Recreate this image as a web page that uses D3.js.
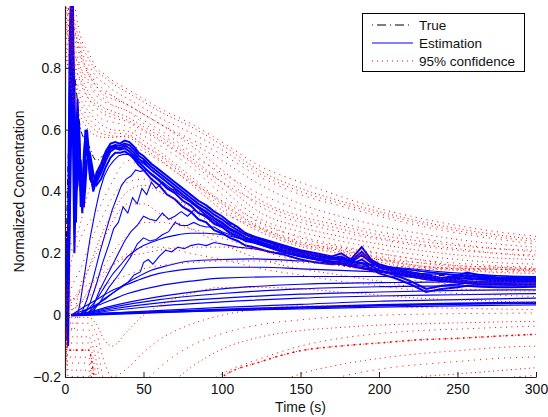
<!DOCTYPE html>
<html><head><meta charset="utf-8">
<script src="https://cdn.jsdelivr.net/npm/d3@7"></script>
<style>
body{margin:0;background:#fff;}
text{font-family:"Liberation Sans",Arial,Helvetica,sans-serif;}
</style></head><body>
<svg id="chart" width="548" height="417"></svg>
<script>
// ---------- tick labels ----------
const xTicks = [0, 50, 100, 150, 200, 250, 300];
const yTicks = [-0.2, 0, 0.2, 0.4, 0.6, 0.8];
const legendLabels = ["True", "Estimation", "95% confidence"];

// ---------- fine time grid for the main bundle ----------
const tB = [0,1,2,3,4,5,6,7,8,9,10,11,12,13,14,16,18,20,23,26,29,32,35,38,41,44,47,50,55,60,65,70,75,80,85,90,95,100,105,110,115,120,130,140,150,160,170,176,182,189,195,200,210,220,230,240,250,256,265,275,285,300];
const estB1 = [0,0.25,0.1,0.7,1.1,0.95,0.35,0.55,0.70,0.52,0.40,0.37,0.47,0.60,0.57,0.45,0.41,0.46,0.49,0.53,0.555,0.56,0.555,0.565,0.56,0.545,0.525,0.515,0.49,0.47,0.45,0.43,0.41,0.39,0.37,0.355,0.335,0.32,0.30,0.285,0.265,0.255,0.24,0.225,0.21,0.2,0.19,0.2,0.18,0.22,0.18,0.165,0.15,0.14,0.13,0.12,0.128,0.138,0.128,0.123,0.12,0.12];
const estB2 = [0,-0.05,0.3,0.9,1.05,0.6,0.2,0.45,0.66,0.55,0.35,0.39,0.52,0.58,0.55,0.44,0.42,0.45,0.48,0.52,0.545,0.55,0.548,0.555,0.55,0.535,0.515,0.505,0.48,0.46,0.44,0.42,0.40,0.38,0.36,0.345,0.325,0.31,0.29,0.275,0.26,0.25,0.235,0.22,0.205,0.195,0.185,0.19,0.175,0.205,0.175,0.16,0.145,0.135,0.125,0.115,0.122,0.13,0.122,0.118,0.115,0.115];
const estB3 = [0,0.1,-0.1,0.4,0.9,1.05,0.5,0.3,0.6,0.62,0.42,0.33,0.42,0.55,0.6,0.48,0.40,0.44,0.47,0.51,0.54,0.545,0.54,0.548,0.54,0.525,0.505,0.495,0.47,0.45,0.43,0.41,0.39,0.37,0.35,0.335,0.315,0.30,0.28,0.268,0.25,0.245,0.228,0.215,0.2,0.19,0.18,0.185,0.17,0.195,0.17,0.155,0.14,0.13,0.12,0.11,0.115,0.122,0.115,0.112,0.11,0.11];
const estB4 = [0,0.05,0.2,0.5,0.8,0.7,0.4,0.35,0.5,0.58,0.45,0.35,0.38,0.5,0.55,0.5,0.43,0.43,0.46,0.5,0.53,0.54,0.535,0.54,0.53,0.515,0.495,0.48,0.455,0.435,0.41,0.395,0.37,0.355,0.33,0.32,0.295,0.285,0.265,0.255,0.24,0.235,0.22,0.205,0.19,0.18,0.172,0.175,0.165,0.18,0.16,0.145,0.13,0.11,0.085,0.095,0.1,0.105,0.1,0.1,0.098,0.1];
const estB5 = [0,-0.08,0.05,0.3,0.6,0.85,0.75,0.4,0.42,0.5,0.5,0.4,0.35,0.42,0.5,0.52,0.46,0.42,0.44,0.48,0.51,0.525,0.525,0.53,0.52,0.505,0.485,0.47,0.44,0.42,0.39,0.375,0.35,0.335,0.31,0.3,0.275,0.265,0.25,0.24,0.225,0.22,0.205,0.195,0.18,0.17,0.165,0.168,0.16,0.17,0.15,0.135,0.12,0.1,0.075,0.085,0.09,0.095,0.092,0.09,0.09,0.092];

// ---------- intermediate estimation curves [time, value] ----------
const estW1 = [[8,0],[10,0.05],[13,0.15],[16,0.25],[19,0.33],[22,0.4],[25,0.45],[28,0.48],[31,0.5],[34,0.515],[37,0.52],[40,0.52],[43,0.515],[46,0.5],[50,0.49],[55,0.47],[60,0.45],[65,0.43],[70,0.41],[80,0.37],[90,0.33],[100,0.295],[110,0.265],[120,0.24],[140,0.21],[160,0.185],[180,0.165],[200,0.15],[230,0.125],[260,0.115],[300,0.112]];
const estW2 = [[10,0],[14,0.05],[18,0.12],[22,0.2],[26,0.27],[30,0.34],[33,0.38],[36,0.42],[39,0.44],[42,0.45],[45,0.47],[48,0.465],[52,0.47],[56,0.455],[60,0.44],[65,0.42],[70,0.4],[80,0.365],[90,0.325],[100,0.29],[110,0.26],[120,0.24],[140,0.205],[160,0.18],[180,0.16],[200,0.145],[230,0.12],[260,0.11],[300,0.108]];
const estW3 = [[12,0],[16,0.04],[20,0.1],[24,0.17],[28,0.23],[31,0.28],[34,0.3],[37,0.35],[40,0.33],[43,0.38],[46,0.36],[49,0.41],[52,0.39],[55,0.43],[58,0.41],[62,0.43],[66,0.41],[70,0.405],[75,0.38],[80,0.365],[85,0.345],[90,0.32],[95,0.305],[100,0.285],[110,0.255],[120,0.235],[140,0.2],[160,0.18],[180,0.16],[200,0.14],[230,0.115],[260,0.105],[300,0.105]];
const estW4 = [[14,0],[18,0.03],[22,0.08],[26,0.12],[30,0.16],[34,0.2],[38,0.24],[42,0.27],[46,0.29],[50,0.32],[54,0.31],[58,0.305],[62,0.33],[66,0.31],[70,0.32],[74,0.335],[78,0.32],[82,0.34],[86,0.33],[90,0.315],[95,0.3],[100,0.29],[110,0.265],[120,0.24],[135,0.215],[150,0.195],[170,0.17],[200,0.145],[230,0.115],[260,0.1],[300,0.1]];
const estW5 = [[16,0],[22,0.04],[28,0.09],[34,0.13],[38,0.16],[42,0.19],[46,0.23],[50,0.25],[54,0.24],[58,0.245],[62,0.26],[66,0.27],[70,0.3],[74,0.29],[78,0.29],[82,0.3],[86,0.29],[90,0.285],[95,0.285],[100,0.27],[105,0.26],[110,0.25],[120,0.235],[135,0.21],[150,0.19],[170,0.17],[200,0.14],[230,0.12],[260,0.105],[300,0.1]];
const estW6 = [[10,0],[15,0.02],[20,0.05],[25,0.09],[30,0.13],[35,0.16],[40,0.19],[45,0.21],[50,0.225],[60,0.245],[70,0.258],[80,0.265],[90,0.265],[100,0.26],[110,0.25],[120,0.24],[130,0.225],[140,0.215],[150,0.2],[170,0.185],[200,0.16],[230,0.14],[260,0.125],[300,0.115]];
const estW7 = [[12,0],[18,0.02],[24,0.05],[30,0.07],[36,0.09],[40,0.105],[44,0.13],[48,0.14],[50,0.17],[53,0.18],[56,0.165],[60,0.19],[64,0.21],[68,0.205],[72,0.22],[76,0.215],[80,0.225],[85,0.23],[90,0.225],[95,0.235],[100,0.23],[105,0.225],[110,0.22],[120,0.215],[130,0.205],[140,0.2],[150,0.19],[160,0.185],[170,0.18],[185,0.17],[200,0.16],[230,0.14],[260,0.125],[300,0.115]];
const estW8 = [[8,0],[15,0.02],[25,0.05],[35,0.09],[45,0.12],[55,0.145],[65,0.16],[80,0.175],[100,0.18],[120,0.182],[150,0.175],[180,0.165],[210,0.155],[240,0.14],[270,0.13],[300,0.12]];

// ---------- low, slowly rising estimation curves ----------
const estL1 = [[4,0],[10,0.02],[20,0.05],[30,0.08],[40,0.1],[50,0.12],[60,0.135],[80,0.15],[100,0.155],[125,0.155],[150,0.15],[175,0.145],[200,0.14],[250,0.13],[300,0.125]];
const estL2 = [[4,0],[10,0.012],[20,0.03],[30,0.05],[40,0.07],[60,0.095],[80,0.11],[100,0.12],[150,0.125],[200,0.125],[250,0.12],[300,0.118]];
const estL3 = [[4,0],[15,0.01],[30,0.03],[60,0.06],[100,0.085],[150,0.1],[200,0.105],[250,0.108],[300,0.108]];
const estL4 = [[4,0],[15,0.008],[30,0.025],[60,0.05],[100,0.07],[150,0.085],[200,0.092],[250,0.095],[300,0.095]];
const estL5 = [[4,0],[15,0.006],[30,0.02],[60,0.04],[100,0.055],[150,0.068],[200,0.075],[250,0.08],[300,0.082]];
const estL6 = [[4,0],[15,0.004],[30,0.015],[60,0.03],[100,0.043],[150,0.055],[200,0.062],[250,0.066],[300,0.07]];
const estL7 = [[4,0],[40,0.01],[100,0.025],[150,0.035],[200,0.045],[250,0.05],[300,0.055]];
const estL8 = [[4,0],[30,0.005],[60,0.01],[100,0.017],[150,0.025],[200,0.032],[250,0.037],[300,0.04]];
const estL9 = [[4,0],[50,0.008],[100,0.015],[150,0.02],[200,0.026],[250,0.03],[300,0.033]];

// ---------- coarse grid for true curve and confidence bounds ----------
const tR = [0,2,5,10,15,20,25,30,40,50,60,80,100,125,150,175,200,225,250,275,300];
const trueC = [0,0.5,0.8,0.6,0.55,0.5,0.52,0.54,0.55,0.5,0.46,0.38,0.31,0.245,0.2,0.18,0.16,0.135,0.125,0.118,0.115];

const upU1a = [1.2,1.1,0.98,0.88,0.83,0.79,0.77,0.75,0.72,0.69,0.66,0.61,0.55,0.465,0.41,0.37,0.335,0.305,0.28,0.26,0.245];
const upU1b = [1.2,1.08,0.96,0.86,0.81,0.77,0.75,0.73,0.7,0.67,0.64,0.59,0.535,0.455,0.40,0.362,0.328,0.298,0.273,0.253,0.238];
const upU1c = [1.15,1.05,0.94,0.84,0.79,0.75,0.73,0.71,0.68,0.65,0.62,0.57,0.52,0.445,0.39,0.354,0.32,0.29,0.266,0.246,0.23];
const upU2a = [1.2,1.05,0.95,0.85,0.78,0.74,0.71,0.7,0.68,0.65,0.62,0.55,0.47,0.37,0.32,0.29,0.26,0.24,0.225,0.215,0.21];
const upU2b = [1.15,1.0,0.9,0.8,0.75,0.71,0.69,0.68,0.66,0.63,0.6,0.53,0.45,0.35,0.30,0.27,0.245,0.225,0.21,0.2,0.195];
const upU2c = [1.1,1.0,0.88,0.78,0.72,0.69,0.67,0.66,0.64,0.61,0.58,0.51,0.43,0.33,0.285,0.255,0.23,0.21,0.195,0.185,0.18];
const upU2d = [1.1,0.95,0.85,0.75,0.7,0.67,0.65,0.64,0.625,0.595,0.565,0.495,0.41,0.31,0.27,0.24,0.215,0.195,0.18,0.17,0.165];
const upU2e = [1.05,0.95,0.82,0.72,0.68,0.65,0.63,0.625,0.61,0.58,0.55,0.48,0.39,0.295,0.255,0.225,0.2,0.18,0.168,0.16,0.155];
const upU3a = [1.0,0.9,0.8,0.7,0.66,0.63,0.61,0.6,0.595,0.565,0.53,0.45,0.365,0.285,0.235,0.215,0.185,0.16,0.15,0.148,0.145];
const upU3b = [0.95,0.85,0.75,0.68,0.64,0.61,0.595,0.59,0.585,0.55,0.515,0.435,0.35,0.275,0.228,0.205,0.178,0.155,0.148,0.142,0.14];
const upU3c = [0.9,0.8,0.72,0.66,0.62,0.595,0.585,0.58,0.575,0.54,0.505,0.425,0.34,0.268,0.222,0.2,0.172,0.15,0.145,0.138,0.135];
const upU4a = [1.1,1.0,0.92,0.83,0.78,0.74,0.72,0.71,0.68,0.65,0.62,0.56,0.5,0.42,0.36,0.32,0.29,0.265,0.245,0.23,0.22];
const upU4b = [1.0,0.92,0.86,0.8,0.76,0.72,0.7,0.68,0.66,0.62,0.59,0.52,0.46,0.39,0.34,0.3,0.27,0.25,0.23,0.215,0.205];
const upU4c = [0.95,0.9,0.82,0.76,0.7,0.68,0.66,0.65,0.63,0.6,0.57,0.5,0.43,0.36,0.31,0.28,0.25,0.23,0.215,0.2,0.19];
const upU4d = [1.3,1.2,1.05,0.9,0.85,0.8,0.78,0.76,0.73,0.7,0.67,0.62,0.56,0.48,0.43,0.385,0.345,0.315,0.29,0.27,0.255];
const upU4e = [0.85,0.8,0.7,0.64,0.6,0.58,0.575,0.575,0.58,0.55,0.52,0.44,0.36,0.28,0.23,0.21,0.18,0.16,0.152,0.15,0.148];
const upW1 = [0,0.1,0.2,0.3,0.4,0.46,0.5,0.53,0.55,0.53,0.5,0.43,0.37,0.3,0.25,0.22,0.2,0.18,0.16,0.155,0.15];
const upW2 = [0,0.05,0.1,0.15,0.22,0.28,0.33,0.38,0.43,0.44,0.42,0.38,0.33,0.28,0.24,0.21,0.19,0.17,0.155,0.148,0.142];
const upL1 = [0,0.02,0.05,0.08,0.1,0.12,0.14,0.16,0.19,0.2,0.21,0.22,0.22,0.21,0.2,0.19,0.18,0.17,0.16,0.155,0.15];
const upL2 = [0,0.01,0.02,0.04,0.06,0.08,0.095,0.11,0.13,0.15,0.16,0.17,0.175,0.175,0.17,0.165,0.16,0.155,0.15,0.148,0.145];

const loW1 = [0,0.05,0.05,0.08,0.15,0.22,0.28,0.33,0.4,0.42,0.4,0.35,0.3,0.24,0.2,0.175,0.15,0.13,0.115,0.11,0.105];
const loW2 = [0,0.0,0.02,0.04,0.08,0.12,0.16,0.2,0.26,0.3,0.3,0.28,0.25,0.21,0.18,0.16,0.14,0.12,0.11,0.1,0.1];
const loD1 = [0.1,0.3,0.2,0.25,0.3,0.33,0.38,0.43,0.5,0.47,0.42,0.34,0.28,0.21,0.175,0.16,0.135,0.11,0.1,0.095,0.095];
const loD2 = [0.0,0.1,0.0,0.1,0.15,0.2,0.25,0.3,0.36,0.36,0.33,0.28,0.23,0.18,0.15,0.13,0.11,0.09,0.085,0.08,0.078];
const loD2b = [0.0,0.0,-0.05,0.03,0.08,0.1,0.13,0.16,0.2,0.22,0.22,0.2,0.18,0.15,0.13,0.11,0.095,0.08,0.07,0.065,0.06];
const loD3 = [0.0,-0.007,-0.007,-0.007,-0.007,-0.03,-0.08,-0.1,-0.05,0.0,0.03,0.07,0.09,0.09,0.085,0.075,0.065,0.055,0.05,0.045,0.04];
const loD4 = [0.0,-0.026,-0.026,-0.026,-0.026,-0.06,-0.15,-0.2,-0.17,-0.12,-0.08,-0.03,0.0,0.02,0.03,0.03,0.028,0.025,0.022,0.02,0.018];
const loD5 = [0.0,-0.048,-0.048,-0.048,-0.048,-0.1,-0.22,-0.3,-0.28,-0.22,-0.17,-0.1,-0.06,-0.03,-0.015,-0.005,0.0,0.003,0.005,0.006,0.007];
const loD6 = [0.0,-0.07,-0.07,-0.07,-0.07,-0.15,-0.3,-0.4,-0.38,-0.32,-0.26,-0.17,-0.11,-0.07,-0.05,-0.04,-0.032,-0.028,-0.025,-0.022,-0.02];
const loD7 = [0.0,-0.09,-0.09,-0.09,-0.09,-0.2,-0.35,-0.45,-0.48,-0.42,-0.36,-0.26,-0.19,-0.14,-0.1,-0.075,-0.06,-0.05,-0.045,-0.04,-0.035];
const loD8 = [0.0,-0.113,-0.113,-0.113,-0.113,-0.25,-0.4,-0.5,-0.55,-0.5,-0.45,-0.3,-0.2,-0.15,-0.115,-0.1,-0.09,-0.08,-0.075,-0.068,-0.062];
const loD9 = [0.0,-0.136,-0.136,-0.136,-0.136,-0.3,-0.45,-0.55,-0.6,-0.6,-0.55,-0.42,-0.32,-0.24,-0.19,-0.16,-0.14,-0.125,-0.115,-0.105,-0.1];
const loD10 = [0.0,-0.155,-0.155,-0.155,-0.155,-0.35,-0.5,-0.6,-0.65,-0.65,-0.6,-0.5,-0.4,-0.3,-0.24,-0.2,-0.175,-0.16,-0.15,-0.14,-0.135];
const loD11 = [0.0,-0.178,-0.178,-0.178,-0.178,-0.4,-0.55,-0.65,-0.7,-0.7,-0.68,-0.6,-0.5,-0.38,-0.3,-0.25,-0.22,-0.2,-0.19,-0.18,-0.17];
const loD12 = [0.0,-0.198,-0.198,-0.198,-0.198,-0.45,-0.6,-0.7,-0.75,-0.75,-0.72,-0.65,-0.56,-0.45,-0.36,-0.3,-0.26,-0.235,-0.22,-0.205,-0.195];

// ---------- drawing ----------
const W = 548, H = 417;
const margin = {left: 65, right: 12, top: 6, bottom: 40};
const svg = d3.select("#chart");
const x = d3.scaleLinear().domain([0, 300]).range([margin.left, W - margin.right]);
const y = d3.scaleLinear().domain([-0.2, 1.0]).range([H - margin.bottom, margin.top]);

svg.append("defs").append("clipPath").attr("id", "plotclip")
  .append("rect").attr("x", x(0)).attr("y", y(1.0))
  .attr("width", x(300) - x(0)).attr("height", y(-0.2) - y(1.0));
const plot = svg.append("g").attr("clip-path", "url(#plotclip)");

const zipT = (ts, vs) => ts.map((t, i) => [t, vs[i]]);
const lineLin = d3.line().x(d => x(d[0])).y(d => y(d[1]));
const lineSmooth = d3.line().x(d => x(d[0])).y(d => y(d[1])).curve(d3.curveMonotoneX);

// true curve (dash-dot black)
plot.append("path").attr("d", lineSmooth(zipT(tR, trueC)))
  .attr("fill", "none").attr("stroke", "#000").attr("stroke-width", 1)
  .attr("stroke-dasharray", "6,3,1,3");

// estimation curves
const blue = "#0000ff";
[estL9, estL7, estL6, estL5, estL4, estL3, estL2, estL1].forEach(s => {
  plot.append("path").attr("d", lineSmooth(s)).attr("fill", "none")
    .attr("stroke", blue).attr("stroke-width", 1.2);
});
plot.append("path").attr("d", lineSmooth(estL8)).attr("fill", "none")
  .attr("stroke", blue).attr("stroke-width", 2.6);
[estW8, estW6].forEach(s => {
  plot.append("path").attr("d", lineSmooth(s)).attr("fill", "none")
    .attr("stroke", blue).attr("stroke-width", 1.1);
});
[estW7, estW5, estW4, estW3, estW2, estW1].forEach(s => {
  plot.append("path").attr("d", lineLin(s)).attr("fill", "none")
    .attr("stroke", blue).attr("stroke-width", 1.1);
});
[estB5, estB4, estB3, estB2, estB1].forEach(vs => {
  plot.append("path").attr("d", lineLin(zipT(tB, vs))).attr("fill", "none")
    .attr("stroke", blue).attr("stroke-width", 2);
});

// confidence bounds (red dotted)
const bounds = [upU1a, upU1b, upU1c, upU2a, upU2b, upU2c, upU2d, upU2e, upU3a, upU3b, upU3c,
  upU4a, upU4b, upU4c, upU4d, upU4e, upW1, upW2, upL1, upL2,
  loW1, loW2, loD1, loD2, loD2b, loD3, loD4, loD5, loD6, loD7, loD8, loD9, loD10, loD11, loD12];
const dashes = ["1,3", "1,4", "1,5", "1,3.5", "1,4.5"];
bounds.forEach((vs, i) => {
  plot.append("path").attr("d", lineSmooth(zipT(tR, vs))).attr("fill", "none")
    .attr("stroke", "#ff0000").attr("stroke-width", 1)
    .attr("stroke-dasharray", dashes[i % dashes.length])
    .attr("stroke-dashoffset", i % 3);
});
// emphasised lower bound (denser dots)
plot.append("path").attr("d", lineSmooth(zipT(tR, loD8))).attr("fill", "none")
  .attr("stroke", "#ff0000").attr("stroke-width", 1.6).attr("stroke-dasharray", "1.6,4.5");

// axes
const fmtY = v => v === 0 ? "0" : (v < 0 ? "\u2212" : "") + Math.abs(v).toFixed(1);
const gx = svg.append("g").attr("transform", `translate(0,${y(-0.2)})`)
  .call(d3.axisBottom(x).tickValues(xTicks).tickSize(-5).tickSizeOuter(0).tickPadding(7));
const gy = svg.append("g").attr("transform", `translate(${x(0)},0)`)
  .call(d3.axisLeft(y).tickValues(yTicks).tickFormat(fmtY).tickSize(-5).tickSizeOuter(0).tickPadding(4));
[gx, gy].forEach(g => {
  g.select(".domain").attr("stroke", "#222").attr("stroke-width", 1.2);
  g.selectAll(".tick line").attr("stroke", "#222");
  g.selectAll(".tick text").attr("font-size", 14).attr("fill", "#111")
    .attr("font-family", "'Liberation Sans',Arial,Helvetica,sans-serif");
});

svg.append("text").attr("x", (x(0) + x(300)) / 2).attr("y", 412)
  .attr("text-anchor", "middle").attr("font-size", 14).attr("fill", "#111").text("Time (s)");
svg.append("text").attr("transform", `translate(24,${(y(-0.2) + y(1.0)) / 2}) rotate(-90)`)
  .attr("text-anchor", "middle").attr("font-size", 14).attr("fill", "#111").text("Normalized Concentration");

// legend
const lg = svg.append("g");
lg.append("rect").attr("x", 362.5).attr("y", 13.5).attr("width", 162).attr("height", 58)
  .attr("fill", "#fff").attr("stroke", "#000").attr("stroke-width", 1);
const rows = [25, 43, 61];
const styles = [
  {stroke: "#000", dash: "1,4,9,4", w: 1.2},
  {stroke: blue, dash: null, w: 1.2},
  {stroke: "#ff0000", dash: "1,4", w: 1}
];
legendLabels.forEach((lab, i) => {
  const ln = lg.append("line").attr("x1", 372).attr("x2", 413).attr("y1", rows[i]).attr("y2", rows[i])
    .attr("stroke", styles[i].stroke).attr("stroke-width", styles[i].w);
  if (styles[i].dash) ln.attr("stroke-dasharray", styles[i].dash);
  lg.append("text").attr("x", 419).attr("y", rows[i] + 5).attr("font-size", 13.5)
    .attr("fill", "#111").text(lab);
});
</script>
</body></html>
